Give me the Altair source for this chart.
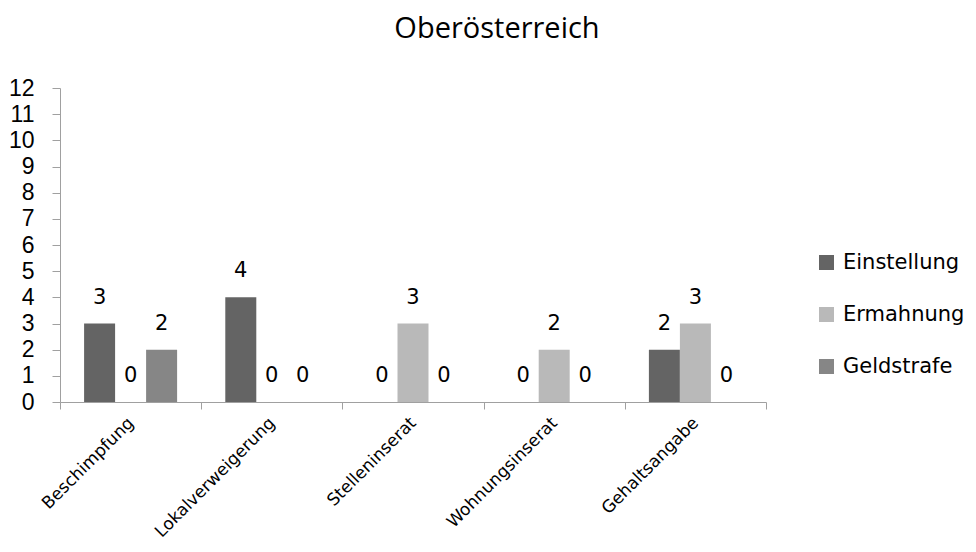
import altair as alt
import pandas as pd

categories = ["Beschimpfung", "Lokalverweigerung", "Stelleninserat", "Wohnungsinserat", "Gehaltsangabe"]
series = ["Einstellung", "Ermahnung", "Geldstrafe"]
einstellung = [3, 4, 0, 0, 2]
ermahnung = [0, 0, 3, 2, 3]
geldstrafe = [2, 0, 0, 0, 0]
colors = ["#646464", "#b9b9b9", "#868686"]

rows = []
for i, c in enumerate(categories):
    for s, vals in zip(series, [einstellung, ermahnung, geldstrafe]):
        rows.append({"Kategorie": c, "Serie": s, "Wert": vals[i]})
df = pd.DataFrame(rows)

FONT = "DejaVu Sans"

x = alt.X("Kategorie:N", sort=categories,
          scale=alt.Scale(paddingInner=0, paddingOuter=0),
          axis=alt.Axis(title=None, labelAngle=-45, labelAlign="right", labelBaseline="middle",
                        labelFontSize=17, labelFont=FONT, labelColor="#000000", labelPadding=11,
                        labelLimit=0, tickBand="extent", tickSize=7, tickColor="#a0a0a0",
                        domainColor="#a0a0a0", grid=False))
xo = alt.XOffset("Serie:N", sort=series, scale=alt.Scale(paddingInner=0, paddingOuter=0.777))
y = alt.Y("Wert:Q", scale=alt.Scale(domain=[0, 12], nice=False),
          axis=alt.Axis(title=None, values=list(range(13)), labelFontSize=23,
                        labelFont="Liberation Sans",
                        labelColor="#000000", tickSize=8, tickColor="#a0a0a0", domainColor="#a0a0a0",
                        labelPadding=18, grid=False, labelFlush=False))

bars = alt.Chart(df).mark_bar().encode(
    x=x, xOffset=xo, y=y,
    color=alt.Color("Serie:N", sort=series, scale=alt.Scale(domain=series, range=colors),
                    legend=alt.Legend(title=None, orient="none", legendX=756, legendY=164,
                                      symbolType="square", symbolSize=225, symbolStrokeWidth=0,
                                      labelFontSize=21, labelFont=FONT, labelColor="#000000",
                                      rowPadding=30, labelOffset=6, labelLimit=0)),
)
labels = alt.Chart(df).mark_text(fontSize=21, font=FONT, baseline="alphabetic", dy=-20,
                                 color="#000000").encode(
    x=x, xOffset=xo, y=y, text="Wert:Q")

chart = (bars + labels).properties(
    width=706, height=314,
    title=alt.TitleParams("Oberösterreich", font="Open Sans", fontSize=29, fontWeight="normal",
                          color="#000000", anchor="middle", dx=84, offset=33),
    padding={"left": 52, "top": 80, "right": 200, "bottom": 140},
    autosize=alt.AutoSizeParams(type="none"),
).configure_view(stroke=None)

chart.save("out.html", embed_options={"renderer": "svg", "actions": False})
